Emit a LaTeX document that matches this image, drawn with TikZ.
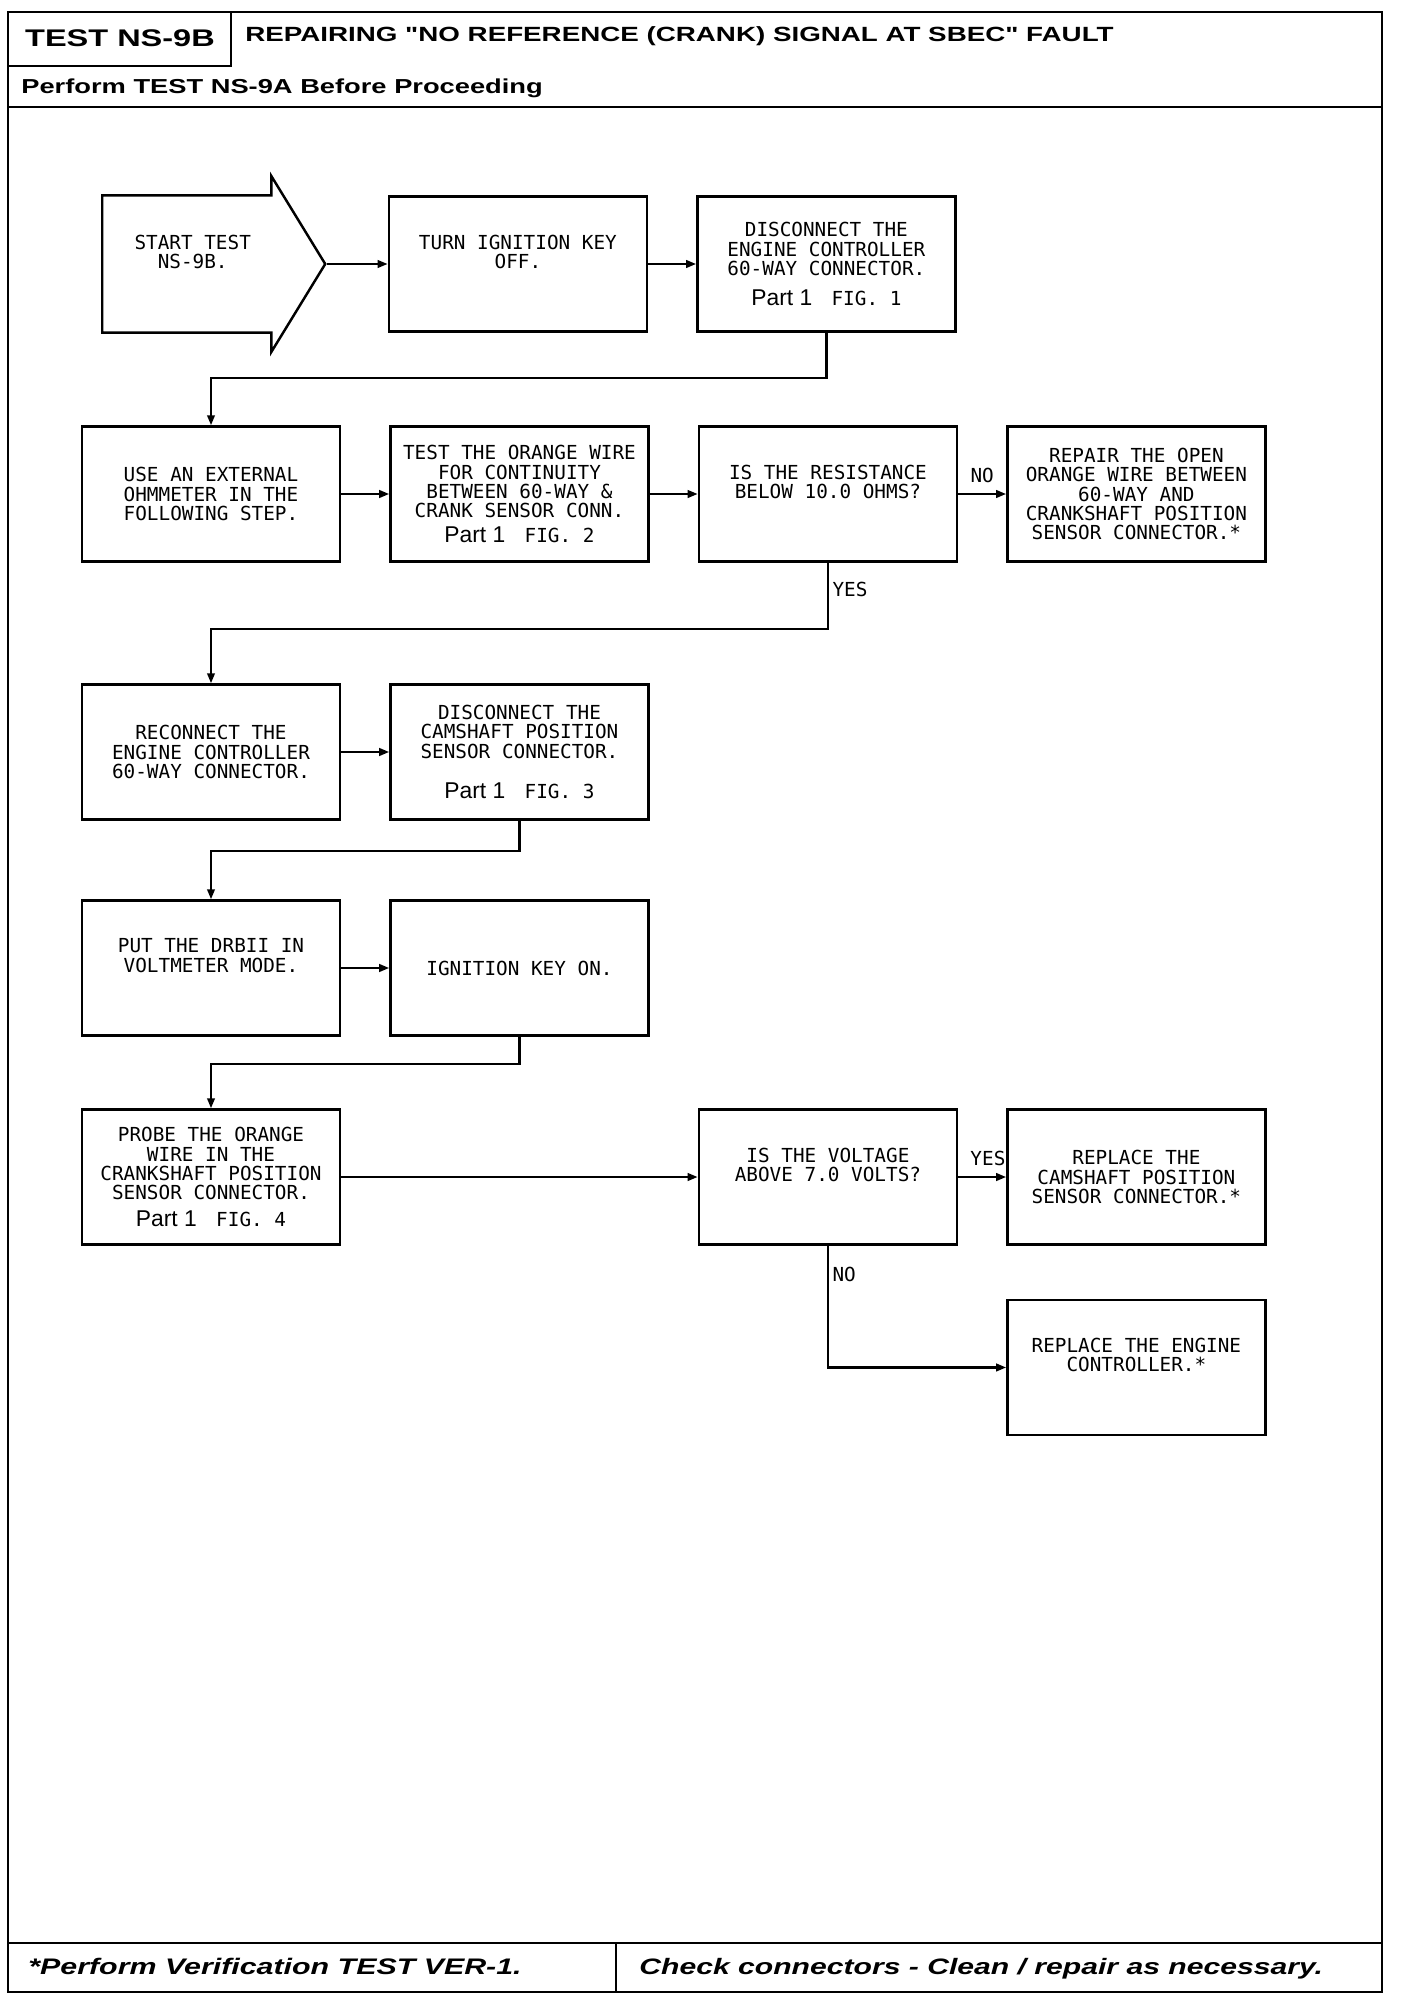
\documentclass[tikz,border=0pt]{standalone}
\usepackage{fontspec}
\setmainfont{Liberation Sans}
\newfontfamily\plotfont{DejaVu Sans Mono}
\newfontfamily\partfont{Liberation Sans}
\newfontfamily\hdfont[FakeStretch=1.35]{Liberation Sans}
\newcommand{\boxfont}{\plotfont\fontsize{11}{11}\selectfont}
\newcommand{\partref}[1]{{\partfont\fontsize{13}{13}\selectfont Part #1}}
\usetikzlibrary{arrows.meta, positioning, shapes.arrows}
\tikzset{
	frame/.style={line width=1.4pt},
	stepbox/.style={draw, line width=1.4pt, minimum width=51.6mm, minimum height=27mm,
		inner sep=2pt, align=center, font=\boxfont},
	upper/.style={text depth=5mm},
	startarrow/.style={draw, line width=1.4pt, single arrow, single arrow head extend=3.9mm,
		single arrow tip angle=117, minimum height=44.6mm, text depth=5mm,
		inner xsep=2pt, inner ysep=7.6mm, align=center, font=\boxfont},
	conn/.style={-{Triangle[length=2mm,width=1.5mm]}, line width=1.3pt},
	lbl/.style={font=\boxfont, inner sep=2pt}
}

\begin{document}
\begin{tikzpicture}[x=0.2mm, y=-0.2mm, node distance=9.6mm]
	\useasboundingbox (0,0) rectangle (1408,2006);
	% page frame
	\draw[frame] (8,12) rectangle (1382,1992);
	\draw[frame] (8,66) -| (231,12);
	\draw[frame] (8,107) -- (1382,107);
	\draw[frame] (8,1943) -- (1382,1943);
	\draw[frame] (616,1943) -- (616,1992);
	% header and footer
	\node[inner sep=0pt, anchor=base, font=\hdfont\bfseries\fontsize{13.7}{16}\selectfont] (testid) at (120,47) {TEST NS-9B};
	\node[inner sep=0pt, anchor=base west, font=\hdfont\bfseries\fontsize{11.7}{14}\selectfont] (title) at (245,42) {REPAIRING "NO REFERENCE (CRANK) SIGNAL AT SBEC" FAULT};
	\node[inner sep=0pt, anchor=base west, font=\hdfont\bfseries\fontsize{11.5}{14}\selectfont] (prereq) at (21,94) {Perform TEST NS-9A Before Proceeding};
	\node[inner sep=0pt, anchor=base west, font=\hdfont\bfseries\itshape\fontsize{12.8}{15}\selectfont] (verify) at (28,1974) {*Perform Verification TEST VER-1.};
	\node[inner sep=0pt, anchor=base west, font=\hdfont\bfseries\itshape\fontsize{12.7}{15}\selectfont] (check) at (639,1974) {Check connectors - Clean / repair as necessary.};

	% row 1
	\node[startarrow, anchor=tail] (start) at (101,264) {START TEST\\NS-9B.};
	\node[stepbox, upper, right=12.2mm of start.tip] (ignoff) {TURN IGNITION KEY\\OFF.};
	\node[stepbox, right=of ignoff] (dis60) {DISCONNECT THE\\ENGINE CONTROLLER\\60-WAY CONNECTOR.\\[6pt]\partref{1}\quad FIG. 1};
	% row 2
	\node[stepbox] (extohm) at (211,494) {USE AN EXTERNAL\\OHMMETER IN THE\\FOLLOWING STEP.};
	\node[stepbox, right=of extohm] (contin) {TEST THE ORANGE WIRE\\FOR CONTINUITY\\BETWEEN 60-WAY \&\\CRANK SENSOR CONN.\\[3pt]\partref{1}\quad FIG. 2};
	\node[stepbox, upper, right=of contin] (rescheck) {IS THE RESISTANCE\\BELOW 10.0 OHMS?};
	\node[stepbox, right=of rescheck] (repwire) {REPAIR THE OPEN\\ORANGE WIRE BETWEEN\\60-WAY AND\\CRANKSHAFT POSITION\\SENSOR CONNECTOR.*};
	% row 3
	\node[stepbox] (recon) at (211,752) {RECONNECT THE\\ENGINE CONTROLLER\\60-WAY CONNECTOR.};
	\node[stepbox, right=of recon] (discam) {DISCONNECT THE\\CAMSHAFT POSITION\\SENSOR CONNECTOR.\\[12pt]\partref{1}\quad FIG. 3};
	% row 4
	\node[stepbox, upper] (drb) at (211,968) {PUT THE DRBII IN\\VOLTMETER MODE.};
	\node[stepbox, right=of drb] (keyon) {IGNITION KEY ON.};
	% row 5
	\node[stepbox] (probe) at (211,1177) {PROBE THE ORANGE\\WIRE IN THE\\CRANKSHAFT POSITION\\SENSOR CONNECTOR.\\[4pt]\partref{1}\quad FIG. 4};
	\node[stepbox, upper] (voltchk) at (rescheck |- probe) {IS THE VOLTAGE\\ABOVE 7.0 VOLTS?};
	\node[stepbox, right=of voltchk] (replcam) {REPLACE THE\\CAMSHAFT POSITION\\SENSOR CONNECTOR.*};
	\node[stepbox, upper, below=10.6mm of replcam] (replecu) {REPLACE THE ENGINE\\CONTROLLER.*};

	% connectors
	\draw[conn] (start.tip) -- (ignoff.west |- start.tip);
	\draw[conn] (ignoff) -- (dis60);
	\draw[conn] (dis60.south) -- ++(0,45) -| (extohm.north);
	\draw[conn] (extohm) -- (contin);
	\draw[conn] (contin) -- (rescheck);
	\draw[conn] (rescheck) -- node[lbl, above=4pt] {NO} (repwire);
	\draw[conn] (rescheck.south) -- node[lbl, right, pos=0.4] {YES} ++(0,66) -| (recon.north);
	\draw[conn] (recon) -- (discam);
	\draw[conn] (discam.south) -- ++(0,30) -| (drb.north);
	\draw[conn] (drb) -- (keyon);
	\draw[conn] (keyon.south) -- ++(0,27) -| (probe.north);
	\draw[conn] (probe) -- (voltchk);
	\draw[conn] (voltchk) -- node[lbl, above=4pt, pos=0.62] {YES} (replcam);
	\draw[conn] (voltchk.south) |- node[lbl, right, pos=0.12] {NO} (replecu.west);
\end{tikzpicture}
\end{document}
